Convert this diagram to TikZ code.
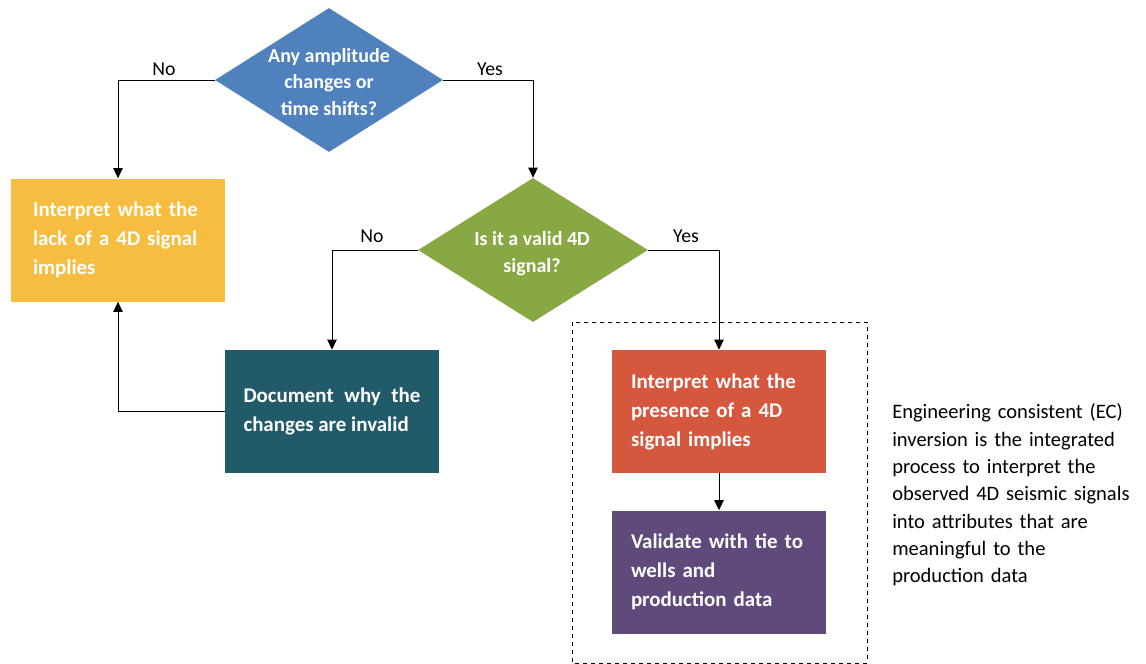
\documentclass[tikz,border=0pt]{standalone}
\usepackage{fontspec}
\setmainfont{Carlito}
\usetikzlibrary{shapes.geometric,arrows.meta}
\definecolor{cblue}{HTML}{4F81BD}
\definecolor{cyellow}{HTML}{F7BD40}
\definecolor{cgreen}{HTML}{88A843}
\definecolor{cteal}{HTML}{215A69}
\definecolor{cred}{HTML}{D4573E}
\definecolor{cpurple}{HTML}{5F4A7B}
\begin{document}
\begin{tikzpicture}[x=0.75pt,y=-0.75pt,
  box/.style={rectangle, minimum width=160.5pt, minimum height=92.25pt, inner ysep=0pt,
    align=left, text=white, font=\fontsize{15.7}{21.75}\selectfont\bfseries},
  dia/.style={diamond, minimum width=171pt, minimum height=108pt, inner sep=0pt},
  dtext/.style={align=center, text=white, font=\fontsize{15}{20}\selectfont\bfseries, inner sep=0pt},
  lab/.style={font=\fontsize{14.8}{16}\selectfont, inner sep=0pt},
  conn/.style={draw=black, line width=0.75pt, -{Triangle[length=7.5pt,width=7pt]}},
  plainline/.style={draw=black, line width=0.75pt}]
\useasboundingbox (0,0) rectangle (1146,664);

% diamonds
\node[dia, fill=cblue] (d1) at (329,80) {};
\node[dtext] (d1t) at (329,82) {Any amplitude\\changes or\\time shifts?};
\node[dia, fill=cgreen, minimum width=172.5pt] (d2) at (533,250) {};
\node[dtext] (d2t) at (532,254) {Is it a valid 4D\\signal?};

% boxes
\node[box, fill=cyellow, inner xsep=16.5pt, text width=127.5pt] (yb) at (118,240)
  {Interpret what the\\lack of a 4D signal\\implies};
\node[box, fill=cteal, inner xsep=13.9pt, text width=132.75pt, align=justify] (tb) at (332,411.5)
  {Document why the changes are invalid};
\node[box, fill=cred, inner xsep=14.25pt, text width=132pt] (rb) at (719,411.5)
  {Interpret what the\\presence of a 4D\\signal implies};
\node[box, fill=cpurple, inner xsep=14.25pt, text width=132pt] (pb) at (719,572)
  {Validate with tie to\\wells and\\production data};

% dashed frame
\draw[dashed, line width=0.6pt] (572,322) rectangle (867,663);

% connectors
\draw[conn] (d1.west) -| (yb.north);
\draw[conn] (d1.east) -| (d2.north);
\draw[conn] (d2.west) -| (tb.north);
\draw[conn] (d2.east) -| (rb.north);
\draw[conn] (tb.west) -| (yb.south);
\draw[conn] (rb.south) -- (pb.north);

% labels
\node[lab] (l1) at (164,69) {No};
\node[lab] (l2) at (490,69) {Yes};
\node[lab] (l3) at (372,236) {No};
\node[lab] (l4) at (686,236) {Yes};

% side text
\node[anchor=west, align=left, inner sep=0pt, text width=200pt,
  font=\fontsize{15.4}{20.5}\selectfont] (note) at (892,495)
  {Engineering consistent (EC)\\inversion is the integrated\\process to interpret the\\observed 4D seismic signals\\into attributes that are\\meaningful to the\\production data};
\end{tikzpicture}
\end{document}
